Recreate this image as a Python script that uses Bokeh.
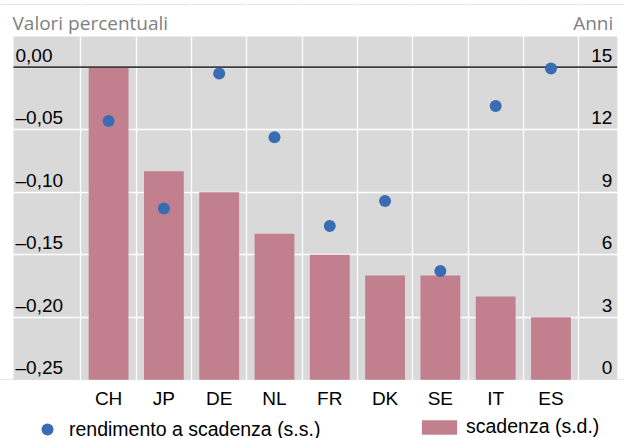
from bokeh.plotting import figure
from bokeh.models import (Range1d, FixedTicker, Grid, Legend, LegendItem,
                          ColumnDataSource, BoxAnnotation)
from bokeh.core.properties import value
from bokeh.embed import file_html
from bokeh.resources import INLINE

# ---- data ----
countries = ["CH", "JP", "DE", "NL", "FR", "DK", "SE", "IT", "ES"]
maturity = [15.0, 10.0, 9.0, 7.0, 6.0, 5.0, 5.0, 4.0, 3.0]          # anni (s.d.)
yields = [-0.043, -0.113, -0.005, -0.056, -0.127, -0.107, -0.163, -0.031, -0.001]  # % (s.s.)
left_ticks = [0.0, -0.05, -0.10, -0.15, -0.20, -0.25]
left_labels = ["0,00", "–0,05", "–0,10", "–0,15", "–0,20", "–0,25"]
right_ticks = [15, 12, 9, 6, 3, 0]
right_labels = ["15", "12", "9", "6", "3", "0"]
left_title = "Valori percentuali"
right_title = "Anni"
legend_dot = "rendimento a scadenza (s.s.)"
legend_bar = "scadenza (s.d.)"

FONT = "Liberation Sans"
TFONT = "Open Sans"
FS = "19px"
BAR_COLOR = "#c27f8e"
DOT_COLOR = "#3a6cb4"
BG = "#d9d9d9"

xpos = [i + 0.5 for i in range(len(countries))]
# grey plotting area (data units)
gx0, gx1 = -1.22, 9.70
gy0, gy1 = -0.25, 0.0245
# whole canvas is the frame; grey area is drawn as a box inside it
x0, x1 = -1.455, 9.83
y0, y1 = -0.297, 0.0533

p = figure(width=624, height=438, output_backend="svg", toolbar_location=None,
           x_range=Range1d(x0, x1), y_range=Range1d(y0, y1),
           x_axis_location=None, y_axis_location=None, min_border=0)
p.extra_y_ranges = {"years": Range1d((y0 + 0.25) * 60, (y1 + 0.25) * 60)}
p.background_fill_color = "white"
p.border_fill_color = "white"
p.outline_line_color = None

# grey area, then white grids (invisible on the white surroundings)
p.add_layout(BoxAnnotation(left=gx0, right=gx1, bottom=gy0, top=gy1, fill_color=BG,
                           fill_alpha=1.0, line_color=None, level="underlay"))
p.add_layout(Grid(dimension=0, ticker=FixedTicker(ticks=list(range(len(countries) + 1))),
                  grid_line_color="white", grid_line_width=1.3))
p.add_layout(Grid(dimension=1, ticker=FixedTicker(ticks=left_ticks[:-1]),
                  grid_line_color="white", grid_line_width=1.3))

src = ColumnDataSource(dict(x=xpos, m=maturity, y=yields, c=countries))
bars = p.vbar(x="x", top="m", bottom=0, width=0.72, source=src, y_range_name="years",
              fill_color=BAR_COLOR, line_color=None)
# zero line across the grey area only
p.segment(x0=[gx0], x1=[gx1], y0=[0.0], y1=[0.0], line_color="#3c3c3c", line_width=1.6)
dots = p.scatter(x="x", y="y", size=12, source=src, fill_color=DOT_COLOR, line_color=None)

# category labels
p.text(x="x", y=gy0, text="c", source=src, y_offset=19,
       text_font=value(FONT), text_font_size=FS, text_color="black",
       text_baseline="middle", text_align="center")

# tick labels inside the grey area
p.text(x=[gx0] * len(left_ticks), y=left_ticks, text=left_labels, x_offset=2, y_offset=-12,
       text_font=value(FONT), text_font_size=FS, text_color="black",
       text_baseline="middle", text_align="left")
p.text(x=[gx1] * len(right_ticks), y=right_ticks, text=right_labels, x_offset=-5, y_offset=-12,
       y_range_name="years",
       text_font=value(FONT), text_font_size=FS, text_color="black",
       text_baseline="middle", text_align="right")

# titles
p.text(x=[gx0], y=[gy1], text=[left_title], x_offset=-1, y_offset=-14,
       text_font=value(TFONT), text_font_size=FS, text_color="#808080",
       text_baseline="middle", text_align="left")
p.text(x=[gx1], y=[gy1], text=[right_title], x_offset=-4, y_offset=-14,
       text_font=value(TFONT), text_font_size=FS, text_color="#808080",
       text_baseline="middle", text_align="right")

# legends
common = dict(padding=0, margin=0, border_line_color=None, background_fill_alpha=0,
              label_text_font=FONT, label_text_font_size="19.5px", label_text_color="black")
leg1 = Legend(items=[LegendItem(label=legend_dot, renderers=[dots])],
              location=(32, -6), glyph_width=30, glyph_height=30, label_standoff=7, **common)
leg2 = Legend(items=[LegendItem(label=legend_bar, renderers=[bars])],
              location=(417, 0), glyph_width=44, glyph_height=18, label_standoff=5, **common)
p.add_layout(leg1, "center")
p.add_layout(leg2, "center")

open("out.html", "w").write(file_html(p, INLINE))
